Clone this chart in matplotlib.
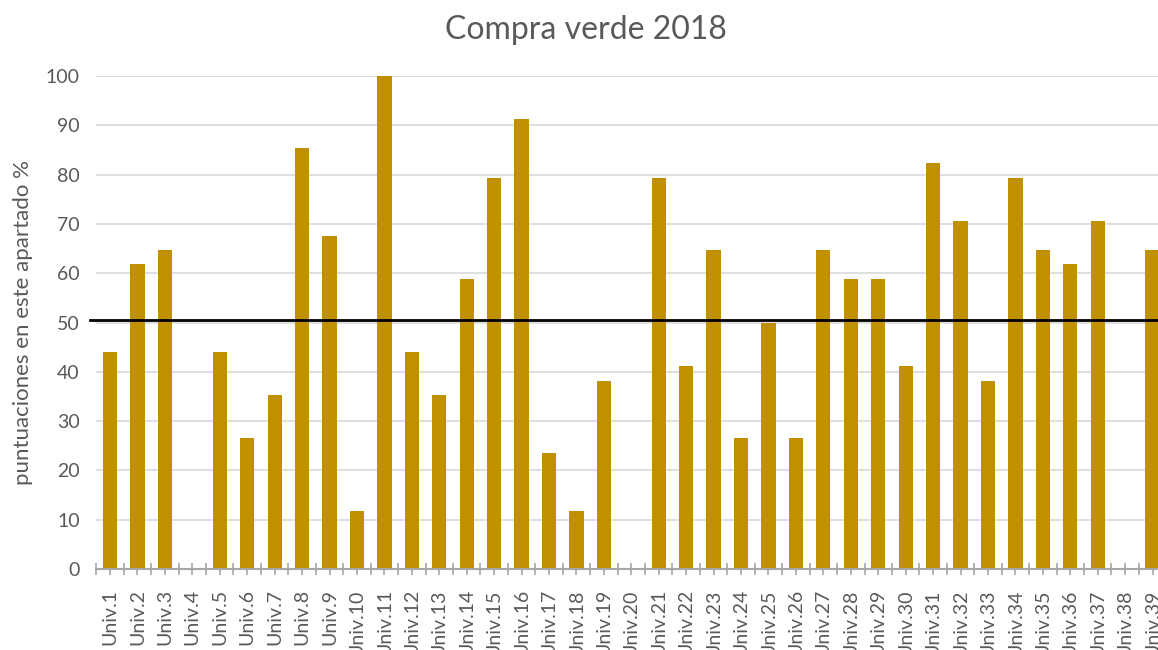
import matplotlib.pyplot as plt
import numpy as np

# puntuaciones por universidad (%)
universidades = [f"Univ.{i}" for i in range(1, 40)]
puntuaciones = [44.1, 61.8, 64.7, 0, 44.1, 26.5, 35.3, 85.3, 67.6, 11.8,
                100, 44.1, 35.3, 58.8, 79.4, 91.2, 23.5, 11.8, 38.2, 0,
                79.4, 41.2, 64.7, 26.5, 50.0, 26.5, 64.7, 58.8, 58.8, 41.2,
                82.4, 70.6, 38.2, 79.4, 64.7, 61.8, 70.6, 0, 64.7]
media = 50.6
yticks = list(range(0, 101, 10))

BAR = "#BF9000"
TXT = "#595959"
GRID = "#D9D9D9"
AXIS = "#A6A6A6"

plt.rcParams["font.family"] = ["Lato", "DejaVu Sans"]

fig = plt.figure(figsize=(11.58, 6.5), dpi=100)
# plot area: x 96 px .. past right edge (cropped), y 76 .. 569 px
ax = fig.add_axes([96.3 / 1158, 81 / 650, 1070 / 1158, 493 / 650])

x = np.arange(len(universidades))
ax.bar(x, puntuaciones, width=0.52, color=BAR, zorder=2)
ax.plot([-0.72, len(universidades)], [media, media], color="black", lw=2,
        zorder=3, clip_on=False)

ax.set_xlim(-0.5, len(universidades) - 0.5)
ax.set_ylim(0, 100)
ax.set_yticks(yticks)
ax.set_xticks(x)
ax.set_xticklabels(universidades, rotation=90, va="top", ha="center")
ax.set_xticks(np.arange(-0.5, len(universidades), 1), minor=True)

ax.grid(axis="y", color=GRID, lw=1.2, zorder=0)
for s in ["left", "right", "top"]:
    ax.spines[s].set_visible(False)
ax.spines["bottom"].set_color(AXIS)
ax.spines["bottom"].set_linewidth(1.5)
ax.spines["bottom"].set_zorder(4)

ax.tick_params(axis="y", length=0, pad=12, labelsize=14, labelcolor=TXT)
ax.tick_params(axis="x", which="both", direction="inout", length=9,
               width=1.2, color=AXIS, labelsize=14, labelcolor=TXT, pad=10)
ax.tick_params(axis="x", which="minor", labelbottom=False)

ax.set_ylabel("puntuaciones en este apartado %", fontsize=16, color=TXT,
              labelpad=9)
fig.text(586 / 1158, 1 - 30 / 650, "Compra verde 2018", ha="center",
         va="center", fontsize=23, color=TXT)

fig.savefig("out.png", dpi=100)
